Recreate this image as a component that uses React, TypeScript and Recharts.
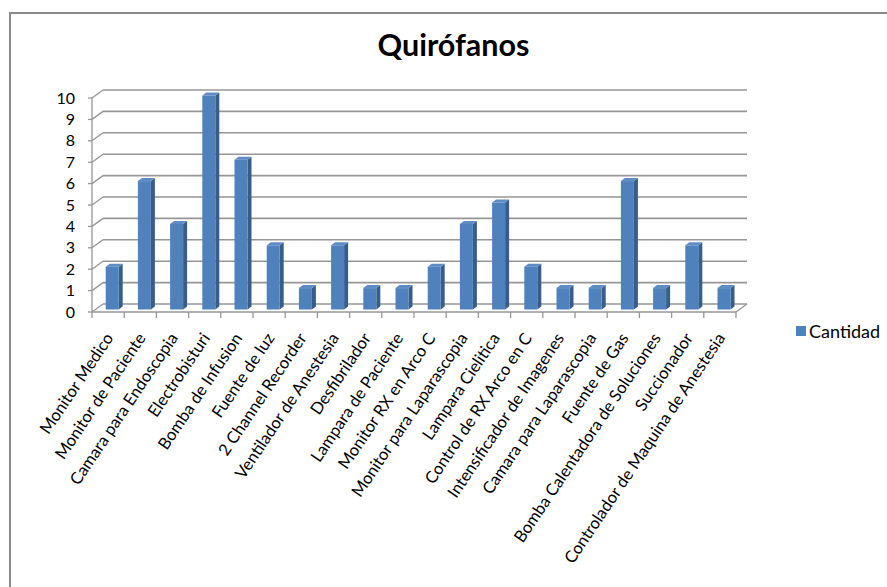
import React from "react";
import { BarChart, Bar, XAxis, YAxis, CartesianGrid, Legend } from "recharts";

const categories = [
  "Monitor Medico",
  "Monitor de Paciente",
  "Camara para Endoscopia",
  "Electrobisturi",
  "Bomba de Infusion",
  "Fuente de luz",
  "2 Channel Recorder",
  "Ventilador de Anestesia",
  "Desfibrilador",
  "Lampara de Paciente",
  "Monitor RX en Arco C",
  "Monitor para Laparascopia",
  "Lampara Cielitica",
  "Control de RX Arco en C",
  "Intensificador de Imagenes",
  "Camara para Laparascopia",
  "Fuente de Gas",
  "Bomba Calentadora de Soluciones",
  "Succionador",
  "Controlador de Maquina de Anestesia",
];
const cantidad = [2, 6, 4, 10, 7, 3, 1, 3, 1, 1, 2, 4, 5, 2, 1, 1, 6, 1, 3, 1];
const yTicks = [0, 1, 2, 3, 4, 5, 6, 7, 8, 9, 10];
const seriesName = "Cantidad";
const title = "Quirófanos";

const data = categories.map((c, i) => ({ name: c, value: cantidad[i] }));

const W = 887;
const H = 587;
const PLOT_LEFT = 92;
const PLOT_RIGHT = 736;
const PLOT_TOP = 98;
const PLOT_BOTTOM = 312;
const Y_AXIS_W = 60;
const X_AXIS_H = 30;
const DEPTH_X = 11;
const DEPTH_Y = -8;
const GRID = "#969696";
const FACE = "#4F81BD";
const SIDE = "#385D8A";
const TOP = "#5E8CC4";
const FONT = "Lato, 'Open Sans', sans-serif";
const LABEL_ANGLE = -56;

const GridLine = (props: any) => {
  const { x1, y1, x2, y2 } = props;
  const isFloor = Math.abs(y1 - PLOT_BOTTOM) < 1.5;
  return (
    <g>
      <line x1={x1 + DEPTH_X} y1={y1 + DEPTH_Y} x2={x2 + DEPTH_X} y2={y2 + DEPTH_Y} stroke={GRID} strokeWidth={1.6} />
      <line x1={x1} y1={y1} x2={x1 + DEPTH_X} y2={y1 + DEPTH_Y} stroke={GRID} strokeWidth={1.3} />
      {isFloor && (
        <line x1={x2} y1={y2} x2={x2 + DEPTH_X} y2={y2 + DEPTH_Y} stroke={GRID} strokeWidth={1.3} />
      )}
    </g>
  );
};

const Bar3D = (props: any) => {
  const { x, y, width, height } = props;
  if (height <= 0) return null;
  const ox = 3.7;
  const oy = -2.5;
  const dx = 4;
  const dy = -3;
  const fx = x + ox;
  const fy = y + oy;
  return (
    <g>
      <polygon
        points={`${fx + width},${fy} ${fx + width + dx},${fy + dy} ${fx + width + dx},${fy + height + dy} ${fx + width},${fy + height}`}
        fill={SIDE}
      />
      <polygon
        points={`${fx},${fy} ${fx + dx},${fy + dy} ${fx + width + dx},${fy + dy} ${fx + width},${fy}`}
        fill={TOP}
      />
      <rect x={fx} y={fy} width={width} height={height} fill={FACE} />
    </g>
  );
};

const XTick = (props: any) => {
  const { x, payload, index } = props;
  const bw = (PLOT_RIGHT - PLOT_LEFT) / categories.length;
  const left = x - bw / 2;
  const px = x + 6;
  const py = PLOT_BOTTOM + 26;
  return (
    <g>
      <line x1={left} y1={PLOT_BOTTOM} x2={left} y2={PLOT_BOTTOM + 6} stroke={GRID} strokeWidth={1.3} />
      {index === categories.length - 1 && (
        <line x1={x + bw / 2} y1={PLOT_BOTTOM} x2={x + bw / 2} y2={PLOT_BOTTOM + 6} stroke={GRID} strokeWidth={1.3} />
      )}
      <text
        x={px}
        y={py}
        transform={`rotate(${LABEL_ANGLE} ${px} ${py})`}
        textAnchor="end"
        fontSize={16.6}
        fontFamily={FONT}
        fill="#000"
      >
        {payload.value}
      </text>
    </g>
  );
};

const YTick = (props: any) => {
  const { x, y, payload } = props;
  return (
    <text x={x} y={y + 5.5} textAnchor="end" fontSize={16} fontFamily={FONT} fill="#000">
      {payload.value}
    </text>
  );
};

const LegendContent = () => (
  <div style={{ display: "flex", alignItems: "center", fontFamily: FONT, fontSize: 18, color: "#000", whiteSpace: "nowrap" }}>
    <span style={{ display: "inline-block", width: 10, height: 10, background: FACE, marginRight: 3 }} />
    <span>{seriesName}</span>
  </div>
);

export default function App() {
  return (
    <div style={{ position: "absolute", left: 0, top: 0, width: W, height: H, overflow: "hidden", background: "#fff" }}>
      <div
        style={{
          position: "absolute",
          left: 9,
          top: 12,
          width: 900,
          height: 600,
          borderLeft: "2px solid #8a8a8a",
          borderTop: "2px solid #8a8a8a",
        }}
      />
      <div
        style={{
          position: "absolute",
          left: 0,
          width: 907,
          top: 26,
          lineHeight: "36px",
          textAlign: "center",
          fontFamily: FONT,
          fontWeight: 700,
          fontSize: 30.5,
          color: "#000",
        }}
      >
        {title}
      </div>
      <div style={{ position: "absolute", left: 0, top: 0 }}>
        <BarChart
          width={W}
          height={H}
          data={data}
          barSize={13}
          margin={{
            top: PLOT_TOP,
            left: PLOT_LEFT - Y_AXIS_W,
            right: W - PLOT_RIGHT,
            bottom: H - PLOT_BOTTOM - X_AXIS_H,
          }}
        >
          <CartesianGrid vertical={false} horizontal={GridLine as any} />
          <XAxis
            dataKey="name"
            interval={0}
            height={X_AXIS_H}
            tickLine={false}
            axisLine={{ stroke: GRID, strokeWidth: 1.3 }}
            tick={XTick as any}
          />
          <YAxis
            width={Y_AXIS_W}
            domain={[0, 10]}
            ticks={yTicks}
            interval={0}
            tickSize={4}
            tickMargin={13}
            tickLine={{ stroke: GRID, strokeWidth: 1.3 }}
            axisLine={{ stroke: GRID, strokeWidth: 1.3 }}
            tick={YTick as any}
          />
          <Legend
            layout="horizontal"
            verticalAlign="middle"
            align="center"
            content={LegendContent as any}
            wrapperStyle={{ left: 796, top: 320, width: "auto", height: "auto" }}
          />
          <Bar dataKey="value" name={seriesName} isAnimationActive={false} shape={Bar3D as any} />
        </BarChart>
      </div>
    </div>
  );
}
